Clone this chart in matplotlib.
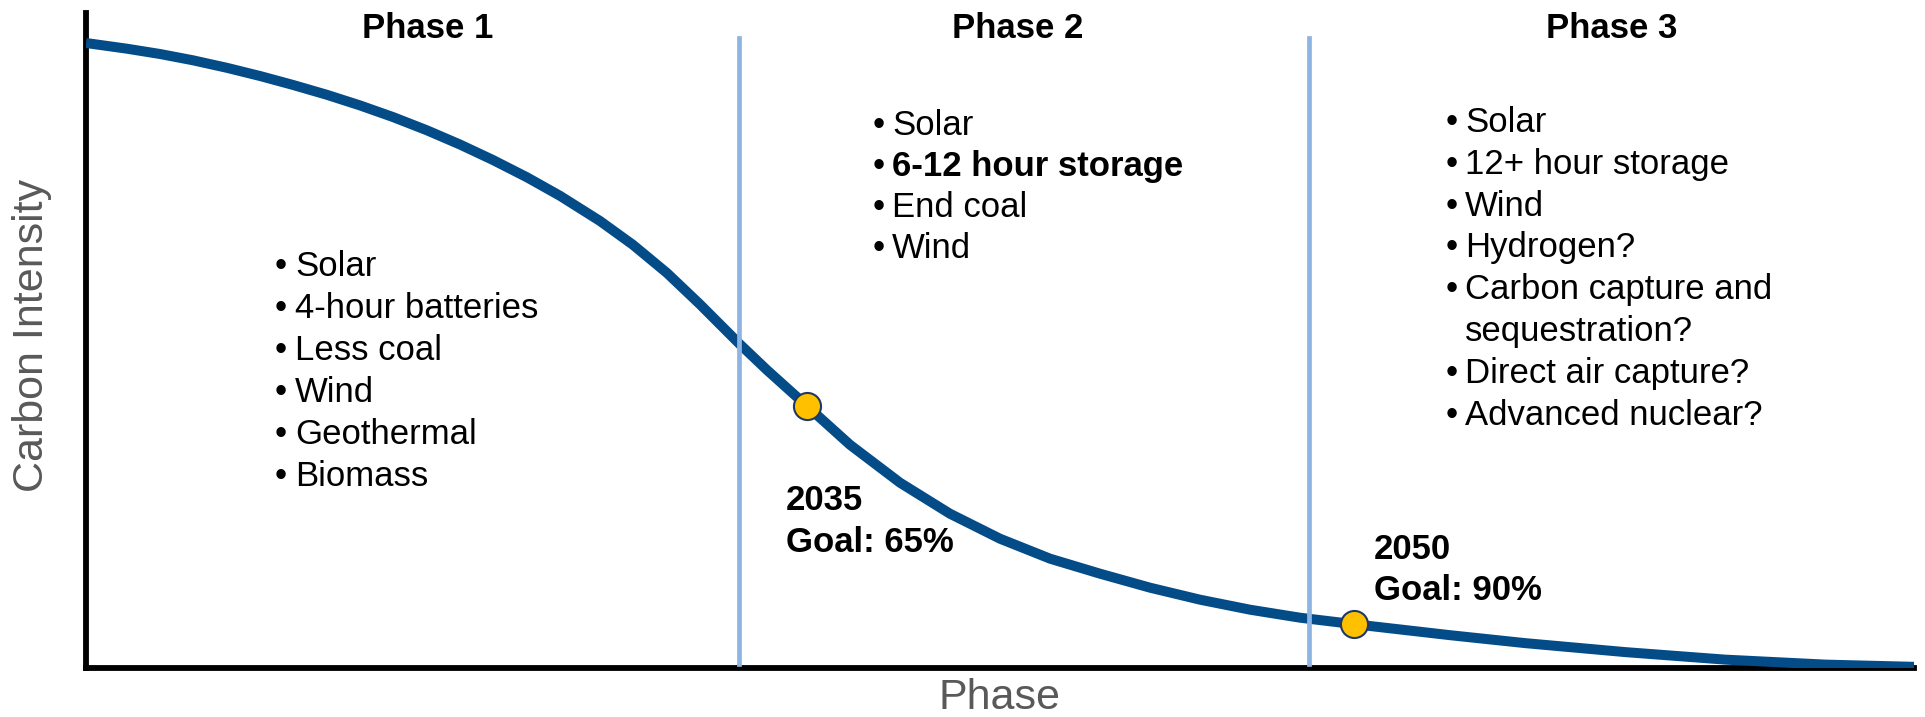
import matplotlib

matplotlib.use("Agg")
import matplotlib.pyplot as plt

# carbon intensity pathway (x: progress 0-100, y: intensity 0-100)
curve_x = [0.0, 2.24, 4.05, 5.85, 7.71, 9.52, 11.32, 13.18, 14.99, 16.79, 18.65,
           20.46, 22.26, 24.12, 25.93, 28.12, 29.92, 31.78, 33.59, 35.72, 37.25,
           39.44, 41.79, 44.53, 47.26, 50.0, 52.74, 55.47, 58.21, 60.94, 63.68,
           66.41, 69.37, 74.62, 78.72, 84.19, 89.66, 95.13, 100.0]
curve_y = [95.42, 94.55, 93.74, 92.78, 91.63, 90.38, 89.02, 87.51, 85.89, 84.12, 82.09,
           79.92, 77.56, 74.92, 72.09, 68.24, 64.61, 60.31, 55.51, 49.56, 45.50,
           40.00, 34.09, 28.29, 23.56, 19.74, 16.69, 14.40, 12.26, 10.43, 8.90,
           7.68, 6.69, 5.01, 3.80, 2.43, 1.28, 0.52, 0.18]

goal_x = [39.44, 69.37]
goal_y = [40.0, 6.69]
goal_labels = ["2035\nGoal: 65%", "2050\nGoal: 90%"]

phase_bounds = [35.7, 66.9]
phase_titles = ["Phase 1", "Phase 2", "Phase 3"]

phase1_items = ["Solar", "4-hour batteries", "Less coal", "Wind", "Geothermal", "Biomass"]
phase2_items = ["Solar", "6-12 hour storage", "End coal", "Wind"]
phase2_bold = [False, True, False, False]
phase3_items = ["Solar", "12+ hour storage", "Wind", "Hydrogen?",
                "Carbon capture and\nsequestration?", "Direct air capture?",
                "Advanced nuclear?"]

W, H = 1925, 717
AX_L, AX_R, AX_B, AX_T = 86, 1914, 668, 13

plt.rcParams["font.family"] = ["Liberation Sans", "DejaVu Sans"]

fig = plt.figure(figsize=(W / 100, H / 100), dpi=100)
ax = fig.add_axes([AX_L / W, 1 - AX_B / H, (AX_R - AX_L) / W, (AX_B - AX_T) / H])
ax.set_xlim(0, 100)
ax.set_ylim(0, 100)


def px(xp, yp):
    # reference pixel -> data coords
    return ((xp - AX_L) / (AX_R - AX_L) * 100, (AX_B - yp) / (AX_B - AX_T) * 100)


NAVY = "#044C88"
LIGHT = "#8EB4E3"
FS = 25

ax.plot(curve_x, curve_y, color=NAVY, lw=7.2, solid_capstyle="butt",
        solid_joinstyle="round", zorder=3)
for bx in phase_bounds:
    ax.plot([bx, bx], [0.6, px(0, 38)[1]], color=LIGHT, lw=3.4, zorder=4)
ax.plot(goal_x, goal_y, ls="none", marker="o", ms=19.5, mfc="#FFC000",
        mec="#1F3864", mew=1.5, zorder=6, clip_on=False)

# phase headings
for title, cx in zip(phase_titles, [428, 1018, 1612]):
    x, y = px(cx, 38)
    ax.text(x, y, title, ha="center", va="baseline", fontsize=FS,
            fontweight="bold", clip_on=False)


def bullets(items, bullet_x, text_x, first_base, step, bold=None):
    row = 0
    for i, item in enumerate(items):
        weight = "bold" if bold and bold[i] else "normal"
        for j, line in enumerate(item.split("\n")):
            yb = first_base + row * step
            if j == 0:
                ax.text(*px(bullet_x, yb), "\u2022", ha="center", va="baseline",
                        fontsize=FS)
            ax.text(*px(text_x, yb), line, ha="left", va="baseline",
                    fontsize=FS, fontweight=weight)
            row += 1


bullets(phase1_items, 281, 295, 276, 42)
bullets(phase2_items, 879, 892, 135, 41, phase2_bold)
bullets(phase3_items, 1452, 1465, 132, 41.8)

# goal annotations
for label, (lx, ly) in zip(goal_labels, [(786, 510), (1374, 559)]):
    for k, line in enumerate(label.split("\n")):
        ax.text(*px(lx, ly + k * 41.5), line, ha="left", va="baseline",
                fontsize=FS, fontweight="bold")

for side in ["top", "right"]:
    ax.spines[side].set_visible(False)
for side in ["left", "bottom"]:
    ax.spines[side].set_linewidth(4.2)
    ax.spines[side].set_color("black")
ax.set_xticks([])
ax.set_yticks([])

fig.text(32 / W, 1 - 335 / H, "Carbon Intensity", rotation=90, ha="center",
         va="center", fontsize=31, color="#595959")
fig.text(1000 / W, 1 - 709 / H, "Phase", ha="center", va="baseline",
         fontsize=31, color="#595959")

fig.savefig("out.png", dpi=100, facecolor="white")
